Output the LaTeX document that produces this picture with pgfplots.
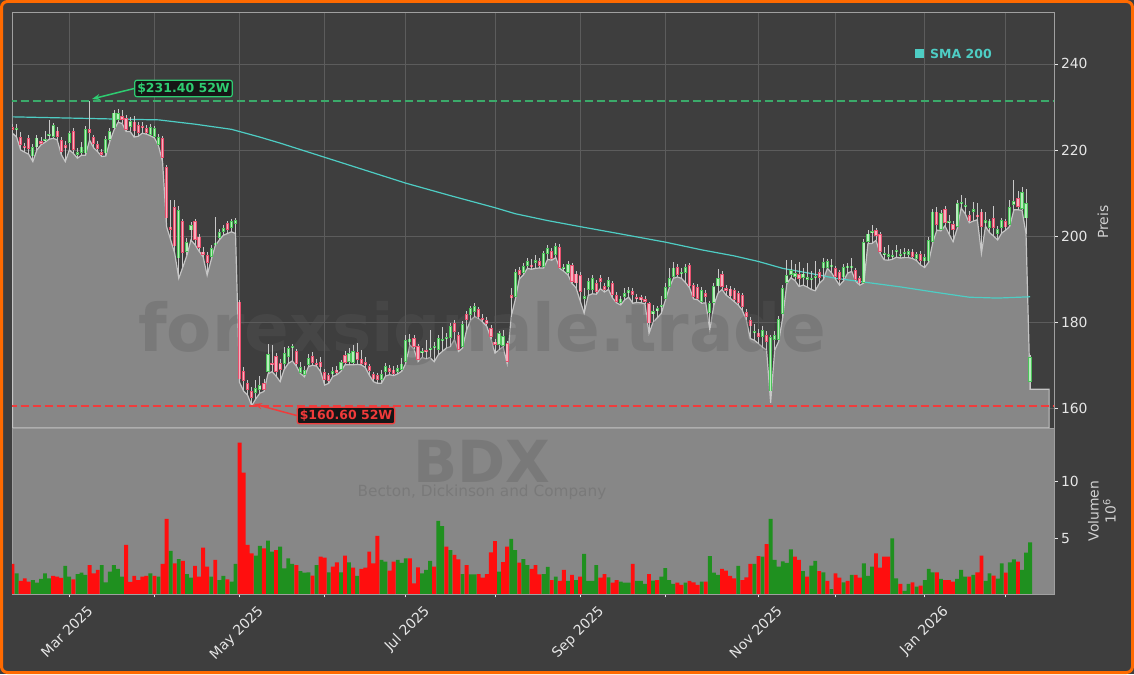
\documentclass[border=0pt]{standalone}
\usepackage{fontspec}
\setmainfont{DejaVu Sans}
\usepackage{pgfplots}
\usepackage{pgfplotstable}
\pgfplotsset{compat=1.18}
\usetikzlibrary{arrows.meta}

\definecolor{bgc}{HTML}{3E3E3E}
\definecolor{gridc}{HTML}{5C5C5C}
\definecolor{spinec}{HTML}{A0A0A0}
\definecolor{tickc}{HTML}{E6E6E6}
\definecolor{labelc}{HTML}{D2D2D2}
\definecolor{areac}{HTML}{878787}
\definecolor{arealinec}{HTML}{C4C4C4}
\definecolor{volbgc}{HTML}{878787}
\definecolor{wickc}{HTML}{C8C8C8}
\definecolor{upedge}{HTML}{4CC35A}
\definecolor{upfill}{HTML}{B8EEBD}
\definecolor{dnedge}{HTML}{E8506E}
\definecolor{dnfill}{HTML}{F6B0BF}
\definecolor{smac}{HTML}{4ECDC4}
\definecolor{highc}{HTML}{3BAA6A}
\definecolor{hightext}{HTML}{2ECC71}
\definecolor{lowc}{HTML}{F03C3C}
\definecolor{lowtext}{HTML}{F03A3A}
\definecolor{annobg}{HTML}{161616}
\definecolor{volg}{HTML}{1F901F}
\definecolor{volr}{HTML}{FF0E0E}
\definecolor{wmc}{HTML}{5A5A5A}
\definecolor{framec}{HTML}{FF6A00}

% day index, open, high, low, close, volume (millions), volume colour (1 green)
\pgfplotstableread{
i o h l c v d
0 225.2 226.0 223.9 224.8 2.81 0
1 224.6 226.0 223.0 225.0 2.00 1
2 223.0 224.2 220.0 221.2 1.34 0
3 220.9 221.6 219.5 220.4 1.57 0
4 222.7 223.5 219.0 220.2 1.28 0
5 218.5 221.5 217.3 220.6 1.42 1
6 220.6 223.6 220.0 222.9 1.19 1
7 221.9 223.0 221.2 221.6 1.51 1
8 222.2 224.5 221.8 222.5 2.00 1
9 223.4 227.0 222.5 223.7 1.57 1
10 223.1 226.2 222.7 225.8 1.77 0
11 224.5 225.4 222.4 223.1 1.71 0
12 222.3 223.0 219.0 219.6 1.60 0
13 221.0 222.2 217.3 220.6 2.64 1
14 221.6 224.5 220.0 223.9 1.71 1
15 224.3 225.0 219.2 220.0 1.48 0
16 218.8 220.4 218.1 219.6 1.94 1
17 219.4 221.8 218.8 220.8 2.06 1
18 219.2 225.5 218.8 224.8 1.86 1
19 224.8 231.4 222.3 223.9 2.72 0
20 223.0 223.6 220.5 221.4 2.00 0
21 221.3 222.0 219.6 220.2 2.29 0
22 219.4 220.2 218.5 219.0 2.72 1
23 219.2 223.2 218.6 222.5 1.22 1
24 222.3 225.0 222.0 224.3 2.14 1
25 225.0 229.3 224.6 228.7 2.72 1
26 227.0 229.6 226.4 228.5 2.38 1
27 227.9 229.4 226.2 226.9 1.71 1
28 227.4 228.1 224.3 224.7 4.46 0
29 225.4 227.6 224.3 226.8 1.25 0
30 226.6 228.0 223.0 224.3 1.77 0
31 225.8 226.5 223.2 223.9 1.42 0
32 225.6 226.4 223.9 225.2 1.71 0
33 225.0 225.8 223.7 223.9 1.77 0
34 223.5 226.1 223.3 225.4 2.00 1
35 223.1 225.5 222.8 225.0 1.77 0
36 221.2 223.7 221.0 223.0 1.71 1
37 222.7 223.2 217.3 218.1 2.81 0
38 216.1 216.5 202.2 204.1 6.71 0
39 202.2 208.4 199.1 201.5 3.94 1
40 206.7 208.4 196.0 197.6 2.87 0
41 194.8 206.9 190.2 206.1 3.24 1
42 203.4 204.0 192.8 196.0 3.07 0
43 196.4 199.5 195.5 198.7 1.94 1
44 201.3 203.2 199.1 202.6 1.62 1
45 203.4 204.0 198.0 199.1 2.64 0
46 199.9 200.5 196.5 197.2 1.71 0
47 196.4 197.5 195.2 195.6 4.22 0
48 195.6 196.3 190.9 193.7 2.58 0
49 195.2 198.0 194.5 197.2 1.71 1
50 198.0 204.5 197.8 198.5 3.16 0
51 199.5 201.6 199.1 201.0 1.42 1
52 201.0 202.5 200.2 201.8 1.77 1
53 203.0 203.6 200.6 201.4 1.48 0
54 201.8 203.9 201.0 203.4 1.28 1
55 202.8 204.2 200.6 203.7 2.81 1
56 184.8 185.2 166.0 166.7 13.33 0
57 168.7 169.5 164.0 166.4 10.73 0
58 165.8 166.5 163.0 164.2 4.46 0
59 164.0 165.0 160.6 162.5 3.73 0
60 163.6 166.5 162.2 164.6 3.53 1
61 164.2 167.4 163.5 165.4 4.37 1
62 165.8 166.8 163.9 164.2 4.17 0
63 168.5 175.0 168.0 172.6 4.83 1
64 170.5 174.7 168.5 170.0 3.88 1
65 172.1 172.8 167.5 168.5 4.02 0
66 170.6 171.5 166.2 169.0 4.31 1
67 170.4 174.3 169.0 172.8 2.43 1
68 172.0 174.5 170.4 173.9 3.30 1
69 174.0 175.0 171.0 174.3 2.81 1
70 173.2 173.8 169.8 170.4 2.72 0
71 168.3 170.8 168.1 169.5 2.20 1
72 167.7 169.8 167.3 168.9 2.06 1
73 170.1 172.7 169.7 171.6 2.09 1
74 172.1 173.0 170.0 170.6 1.80 0
75 170.5 171.5 169.8 170.0 2.72 1
76 170.8 171.8 168.5 169.5 3.44 0
77 168.5 169.2 165.4 166.6 3.36 0
78 167.7 168.3 165.8 166.4 2.09 1
79 168.1 169.5 167.4 168.5 2.58 0
80 169.0 169.8 167.8 168.3 2.95 0
81 168.9 171.3 168.6 170.8 2.09 1
82 172.4 173.2 170.1 170.6 3.53 0
83 170.8 174.0 170.1 172.8 2.95 1
84 170.6 174.6 170.1 173.2 2.49 0
85 173.0 175.2 170.2 171.2 1.77 1
86 171.4 173.5 170.1 170.4 2.38 0
87 170.6 172.0 169.5 170.2 2.49 0
88 169.8 170.4 167.7 168.6 3.88 0
89 167.9 168.4 166.2 166.7 2.87 0
90 167.7 168.3 165.8 166.6 5.24 0
91 166.6 168.8 165.8 167.9 3.16 1
92 168.5 170.6 167.5 169.8 3.01 1
93 169.3 170.0 167.8 168.5 2.23 0
94 169.0 169.8 167.6 168.0 3.01 0
95 168.5 170.0 168.0 169.3 3.16 1
96 168.9 171.6 168.6 170.4 2.90 1
97 170.8 177.0 170.4 175.9 3.30 1
98 175.3 177.3 174.7 176.2 3.30 0
99 176.3 177.0 173.8 174.3 1.13 0
100 174.5 175.0 170.8 171.2 2.52 0
101 172.8 174.0 171.8 173.2 2.00 1
102 173.5 175.9 171.5 173.0 2.29 1
103 173.6 178.2 171.8 174.0 3.07 1
104 174.0 175.5 170.8 174.3 2.58 0
105 173.5 177.0 172.4 176.3 6.54 1
106 175.8 178.9 173.2 176.0 6.10 1
107 176.0 177.6 174.0 176.6 4.31 0
108 176.3 179.8 174.3 179.0 4.02 1
109 179.7 180.4 176.0 177.8 3.59 0
110 177.0 177.8 173.2 173.5 3.21 0
111 174.3 180.2 174.0 179.6 1.94 1
112 181.9 182.7 178.2 180.5 2.72 0
113 181.7 183.8 180.5 183.2 1.91 1
114 182.4 184.4 181.3 183.8 1.91 1
115 183.0 183.6 180.8 181.1 1.94 0
116 180.9 182.0 180.0 180.6 1.62 0
117 180.5 181.2 179.0 179.6 1.94 0
118 178.6 179.3 176.2 176.5 3.82 0
119 175.5 176.2 172.8 174.7 4.80 0
120 174.7 178.0 173.6 177.4 2.14 1
121 174.5 178.3 174.3 176.8 2.98 0
122 175.1 175.6 170.4 170.8 4.31 0
123 186.2 188.0 181.3 185.6 4.98 1
124 185.9 192.3 185.2 191.7 4.02 1
125 192.1 192.8 190.0 191.0 2.93 0
126 191.4 193.8 191.0 193.1 3.24 1
127 193.1 195.0 192.5 194.1 2.72 1
128 193.4 194.6 192.3 192.9 2.38 0
129 193.9 195.5 192.5 194.3 2.72 0
130 194.1 195.0 192.6 193.1 1.91 0
131 192.8 196.5 192.6 196.0 1.94 1
132 195.8 198.0 194.6 197.2 2.55 1
133 196.6 197.2 194.4 194.6 1.42 0
134 195.6 198.5 195.0 197.7 1.71 1
135 197.4 198.2 192.5 192.7 1.34 0
136 192.3 193.5 191.8 192.7 2.29 0
137 191.5 194.2 191.0 193.5 1.34 1
138 193.3 193.8 189.0 189.4 1.86 0
139 191.3 192.0 188.0 189.0 1.42 1
140 191.0 191.6 185.0 187.1 1.71 0
141 185.5 188.0 182.1 186.0 3.68 1
142 187.5 190.2 186.2 189.5 1.34 1
143 187.5 191.0 186.6 190.2 1.34 1
144 189.0 189.8 186.5 187.1 2.72 1
145 190.3 191.0 187.8 189.4 1.62 0
146 188.4 189.2 187.0 187.5 1.94 0
147 188.1 190.6 187.6 189.8 1.65 1
148 189.0 189.6 185.6 186.3 1.19 0
149 186.3 186.9 184.5 184.8 1.42 0
150 184.5 186.0 184.0 185.5 1.28 1
151 185.8 188.0 185.2 186.7 1.19 1
152 186.7 188.2 185.8 187.5 1.19 1
153 187.2 187.9 184.4 186.3 2.81 0
154 185.7 186.5 184.6 185.5 1.34 1
155 185.6 186.4 184.5 185.4 1.34 1
156 185.1 186.0 184.3 185.0 1.08 1
157 184.4 184.8 177.4 179.7 1.94 0
158 182.0 184.0 180.0 182.5 1.37 1
159 182.5 183.8 181.0 183.2 1.42 0
160 183.5 186.0 182.0 184.0 1.71 1
161 185.5 189.0 185.0 188.2 2.46 1
162 188.2 192.5 188.0 190.2 1.42 1
163 190.6 194.0 190.2 192.7 1.08 1
164 192.9 193.5 190.5 191.0 1.19 0
165 191.3 192.5 190.2 191.7 0.99 0
166 191.5 193.6 189.2 192.9 1.19 1
167 193.3 193.8 188.0 188.3 1.34 0
168 188.6 189.2 185.4 185.9 1.22 0
169 188.2 188.8 185.2 185.5 0.99 0
170 184.8 188.2 184.4 187.5 1.28 1
171 186.7 187.4 184.5 185.9 1.28 0
172 182.1 185.0 178.2 184.4 3.50 1
173 184.4 189.0 184.0 188.3 2.06 1
174 188.3 192.3 186.7 190.2 1.86 1
175 191.2 191.8 187.6 188.1 2.38 0
176 188.0 188.6 186.3 187.2 2.23 0
177 187.8 188.4 185.6 186.0 1.77 0
178 187.5 188.0 184.8 185.1 1.57 0
179 186.7 187.2 184.0 184.4 2.64 1
180 186.3 186.8 182.8 183.6 1.42 0
181 182.4 183.0 180.5 181.2 1.65 0
182 180.5 181.2 176.2 179.0 2.81 0
183 177.4 179.6 175.8 178.0 2.81 1
184 177.6 178.4 175.0 176.6 3.50 0
185 176.6 179.2 174.2 178.2 3.44 1
186 177.0 177.9 173.5 175.5 4.54 0
187 163.9 177.0 161.3 176.6 6.71 1
188 175.9 178.0 173.5 177.0 3.16 1
189 175.9 181.4 175.6 180.7 2.58 1
190 181.9 188.7 181.2 187.9 3.04 1
191 189.2 194.5 189.0 191.0 2.90 1
192 191.0 194.5 190.3 192.1 4.08 1
193 190.6 193.5 189.7 191.5 3.44 0
194 191.2 194.0 188.3 190.0 3.16 0
195 190.2 192.5 188.6 191.3 2.20 1
196 190.0 193.8 188.2 190.3 1.71 0
197 189.8 192.0 187.6 190.1 2.67 1
198 190.3 194.3 187.3 190.6 3.07 1
199 191.7 192.4 189.0 190.2 2.20 0
200 192.5 195.0 189.9 194.0 2.09 1
201 192.7 194.6 192.5 194.1 1.34 0
202 193.0 194.6 191.5 193.3 0.64 1
203 192.5 193.0 190.0 190.6 2.00 0
204 191.7 192.2 188.6 189.8 1.62 0
205 190.4 193.5 189.6 192.9 1.22 1
206 192.7 193.8 191.4 193.1 1.34 0
207 192.8 194.8 191.8 193.0 1.86 1
208 192.1 192.6 189.5 189.8 1.86 0
209 190.2 190.8 188.6 189.0 1.62 0
210 189.2 199.3 189.1 198.7 2.87 1
211 198.7 201.3 198.3 200.6 1.77 1
212 200.8 202.5 198.3 201.2 2.58 1
213 201.3 201.8 199.0 200.0 3.73 0
214 200.5 201.0 196.0 196.4 2.49 0
215 195.6 197.5 194.5 195.9 3.44 0
216 195.4 198.0 194.4 195.6 3.44 0
217 195.2 196.8 194.6 195.5 5.03 1
218 196.3 198.0 195.1 196.6 1.57 1
219 195.5 196.9 194.9 195.8 1.08 0
220 195.9 197.3 195.0 196.2 0.47 1
221 195.6 197.0 195.0 196.6 1.08 1
222 196.4 196.9 194.8 195.2 1.22 0
223 194.6 196.4 194.3 195.8 0.85 1
224 195.8 196.5 193.3 194.3 0.93 0
225 194.1 195.8 192.7 195.1 1.42 1
226 194.1 199.8 194.0 199.1 2.38 1
227 198.7 206.4 198.5 205.7 2.09 1
228 205.7 206.8 201.4 202.6 2.09 0
229 201.4 206.0 201.2 205.3 1.51 1
230 206.2 207.0 202.4 203.0 1.42 0
231 203.1 205.0 200.5 203.5 1.42 0
232 202.8 203.5 198.7 201.4 1.28 0
233 202.2 208.4 201.7 207.6 1.51 1
234 207.4 209.6 206.5 207.9 2.29 1
235 206.8 208.8 205.2 207.2 1.71 1
236 204.9 205.8 203.1 203.4 1.71 0
237 205.8 207.9 203.5 206.1 1.86 1
238 205.0 207.6 203.8 204.5 2.09 0
239 205.7 206.4 196.0 202.2 3.53 0
240 203.0 205.5 202.3 203.7 1.34 1
241 201.8 204.0 200.8 203.6 2.00 1
242 204.1 207.0 200.0 201.8 1.80 0
243 200.6 202.4 199.1 201.6 1.54 1
244 201.8 204.3 200.7 203.7 2.87 1
245 203.4 204.0 201.4 202.0 2.06 0
246 202.6 208.3 202.3 206.7 2.95 1
247 207.2 213.0 206.1 208.2 3.21 1
248 208.8 210.5 206.1 206.8 3.01 0
249 206.4 211.3 206.0 210.3 2.29 1
250 204.1 210.9 200.6 207.6 3.79 1
251 166.2 172.3 164.4 171.8 4.69 1
255.7 164.4 164.4 164.4 164.4 0 1
}\ohlc

\pgfplotstableread{
i s
0 227.7
10 227.5
20 227.3
30 227.1
36 227.0
45 226.0
54 224.8
61 223.0
66 221.6
77 218.3
87 215.3
97 212.3
108 209.4
119 206.6
124 205.2
132 203.6
140 202.2
150 200.5
161 198.6
170 196.8
178 195.4
184 194.1
190 192.5
197 191.3
203 190.2
211 189.2
219 188.2
228 186.9
236 185.8
243 185.6
251 185.9
}\sma

\newcommand{\tickfont}{\fontsize{13.9}{16}\selectfont}

\begin{document}
\begin{tikzpicture}
\useasboundingbox (0pt,0pt) rectangle (1134pt,674pt);
\fill[bgc] (0pt,0pt) rectangle (1134pt,674pt);

% price panel
\begin{axis}[
  at={(12pt,246pt)}, anchor=south west,
  scale only axis, width=1042pt, height=416pt,
  xmin=-0.14, xmax=256.9, ymin=155.42, ymax=252.06,
  axis background/.style={fill=bgc},
  axis line style={draw=spinec, line width=0.9pt},
  xtick={14,35,56,77,97,119,140,161,184,203,225,245},
  xticklabels={},
  xtick style={draw=none},
  ytick={160,180,200,220,240},
  ytick pos=right, yticklabel pos=right,
  tick align=outside, major tick length=3.5pt,
  ytick style={draw=tickc, line width=0.8pt},
  grid=major, major grid style={draw=gridc, line width=0.7pt},
  yticklabel style={font=\tickfont, text=tickc},
  /pgf/number format/assume math mode=true,
]
\addplot[fill=areac, draw=arealinec, line width=1.2pt] table[x=i,y=l]{\ohlc} \closedcycle;

\node[font=\fontsize{66}{66}\bfseries\selectfont, text=wmc, text opacity=0.3, anchor=base]
  at (axis cs:115.8,173.1) {forexsignale.trade};

\addplot[smac, line width=1.2pt] table[x=i,y=s]{\sma};

% wicks
\addplot[draw=none, restrict x to domain=-1:252,
  error bars/.cd, y dir=both, y explicit, error mark=none,
  error bar style={draw=wickc, line width=0.8pt, solid}]
  table[x=i, y expr=(\thisrow{h}+\thisrow{l})/2, y error expr=(\thisrow{h}-\thisrow{l})/2]{\ohlc};
% up bodies
\addplot[draw=none, restrict x to domain=-1:252,
  restrict expr to domain={\thisrow{c}-\thisrow{o}}{0:100},
  error bars/.cd, y dir=both, y explicit, error mark=none,
  error bar style={draw=upedge, line width=3.2pt, solid}]
  table[x=i, y expr=(\thisrow{o}+\thisrow{c})/2, y error expr={max(abs(\thisrow{c}-\thisrow{o})/2,0.25)}]{\ohlc};
\addplot[draw=none, restrict x to domain=-1:252,
  restrict expr to domain={\thisrow{c}-\thisrow{o}}{0:100},
  error bars/.cd, y dir=both, y explicit, error mark=none,
  error bar style={draw=upfill, line width=1.3pt, solid}]
  table[x=i, y expr=(\thisrow{o}+\thisrow{c})/2, y error expr={max(abs(\thisrow{c}-\thisrow{o})/2-0.2,0.04)}]{\ohlc};
% down bodies
\addplot[draw=none, restrict x to domain=-1:252,
  restrict expr to domain={\thisrow{c}-\thisrow{o}}{-100:-0.001},
  error bars/.cd, y dir=both, y explicit, error mark=none,
  error bar style={draw=dnedge, line width=3.2pt, solid}]
  table[x=i, y expr=(\thisrow{o}+\thisrow{c})/2, y error expr={max(abs(\thisrow{c}-\thisrow{o})/2,0.25)}]{\ohlc};
\addplot[draw=none, restrict x to domain=-1:252,
  restrict expr to domain={\thisrow{c}-\thisrow{o}}{-100:-0.001},
  error bars/.cd, y dir=both, y explicit, error mark=none,
  error bar style={draw=dnfill, line width=1.3pt, solid}]
  table[x=i, y expr=(\thisrow{o}+\thisrow{c})/2, y error expr={max(abs(\thisrow{c}-\thisrow{o})/2-0.2,0.04)}]{\ohlc};

% 52 week high / low
\addplot[draw=highc, line width=1.6pt, dash pattern=on 8pt off 4pt] coordinates {(-1,231.4) (258,231.4)};
\addplot[draw=lowc, line width=1.8pt, dash pattern=on 8pt off 4pt] coordinates {(-1,160.6) (258,160.6)};
\end{axis}

% volume panel
\begin{axis}[
  at={(12pt,80pt)}, anchor=south west,
  scale only axis, width=1042pt, height=166pt,
  xmin=-0.14, xmax=256.9, ymin=0.21, ymax=14.59,
  axis background/.style={fill=volbgc},
  axis line style={draw=spinec, line width=0.9pt},
  xtick={14,56,97,140,184,225},
  xticklabels={Mar 2025,May 2025,Jul 2025,Sep 2025,Nov 2025,Jan 2026},
  minor xtick={35,77,119,161,203,245},
  ytick={5,10},
  xtick pos=bottom, ytick pos=right, yticklabel pos=right,
  tick align=outside, major tick length=3.5pt, minor tick length=3.5pt,
  tick style={draw=tickc, line width=0.8pt},
  yticklabel style={font=\tickfont, text=tickc},
  xticklabel style={font=\tickfont, text=tickc, xshift=17pt, yshift=-2pt, rotate=45, anchor=north east},
  /pgf/number format/assume math mode=true,
]
\node[font=\fontsize{58}{58}\bfseries\selectfont, text=wmc, text opacity=0.3, anchor=base]
  at (axis cs:115.8,9.83) {BDX};
\node[font=\fontsize{15.3}{17}\selectfont, text=wmc, text opacity=0.3, anchor=base]
  at (axis cs:115.8,8.62) {Becton, Dickinson and Company};
\addplot[ybar, bar width=0.95, bar shift=0pt, fill=volg, draw=none,
  restrict x to domain=-1:252, restrict expr to domain={\thisrow{d}}{0.5:1.5}]
  table[x=i,y=v]{\ohlc};
\addplot[ybar, bar width=0.95, bar shift=0pt, fill=volr, draw=none,
  restrict x to domain=-1:252, restrict expr to domain={\thisrow{d}}{-0.5:0.5}]
  table[x=i,y=v]{\ohlc};
\end{axis}

% axis titles
\node[rotate=90, font=\tickfont, text=labelc] at (1103pt,452pt) {Preis};
\node[rotate=90, font=\fontsize{13.9}{17}\selectfont, text=labelc, align=center] at (1102pt,163pt) {Volumen\\10\textsuperscript{6}};

% legend
\fill[smac] (915pt,616pt) rectangle (924pt,625pt);
\node[anchor=west, font=\fontsize{12.5}{14}\bfseries\selectfont, text=smac, inner sep=0pt] at (930pt,620.5pt) {SMA 200};

% 52 week annotations
\node[draw=hightext, fill=annobg, rounded corners=2pt, line width=1.2pt, text=hightext,
  font=\fontsize{12.5}{14}\bfseries\selectfont, inner sep=2.5pt] (hi) at (183.5pt,585.5pt) {\$231.40 52W};
\draw[-{Stealth[length=8pt,width=6pt]}, draw=hightext, fill=hightext, line width=1.5pt] (hi.west) -- (92pt,575pt);
\node[draw=lowc, fill=annobg, rounded corners=2pt, line width=1.2pt, text=lowtext,
  font=\fontsize{12.5}{14}\bfseries\selectfont, inner sep=2.5pt] (lo) at (346pt,258.5pt) {\$160.60 52W};
\draw[-{Stealth[length=8pt,width=6pt]}, draw=lowc, fill=lowc, line width=1.5pt] (lo.west) -- (254pt,270pt);

% outer frame
\draw[framec, line width=3pt, rounded corners=6pt] (1.5pt,1.5pt) rectangle (1132.5pt,672.5pt);
\end{tikzpicture}
\end{document}
